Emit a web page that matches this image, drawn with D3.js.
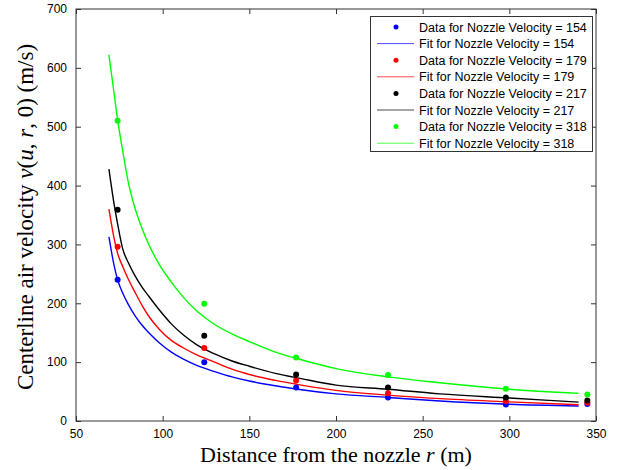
<!DOCTYPE html>
<html>
<head>
<meta charset="utf-8">
<script src="https://cdn.jsdelivr.net/npm/d3@7"></script>
<style>
  body { margin: 0; background: #fff; }
  svg text { font-family: "Liberation Sans", Arial, sans-serif; }
</style>
</head>
<body>
<div id="chart"></div>
<script>
// data
var dataX = [74, 124, 177, 230, 298, 345];
var data154 = [240, 100, 57, 40, 28, 29];
var data179 = [296, 124, 69, 47, 34, 31];
var data217 = [359, 145, 79, 57, 40, 35];
var data318 = [510, 199, 108, 78, 55, 45];

// fitted curves, sampled by eye along each line
var fitX = [69, 72, 74, 77, 80, 84, 88, 92, 98, 105, 112, 120, 130, 140, 150, 165, 180, 200, 230, 260, 300, 340];
var fit154 = [313, 264, 240, 217, 199, 179, 163, 150, 133, 117, 105, 94, 84, 75, 68, 60, 53, 46, 40, 34, 28.5, 25.5];
var fit179 = [360, 310, 285, 262, 242, 219, 197, 178, 156, 137, 124, 112, 100, 88, 79, 69, 61, 52, 44, 38, 32.5, 27.5];
var fit217 = [428, 368, 335, 292, 270, 247, 228, 212, 189, 165, 146, 129, 114, 102, 93, 81, 72, 61, 54, 46, 39, 32];
var fit318 = [622, 556, 512, 458, 408, 362, 328, 300, 266, 236, 210, 186, 164, 148, 135, 117, 104, 89, 75, 65, 54, 47];

var xTicks = [50, 100, 150, 200, 250, 300, 350];
var yTicks = [0, 100, 200, 300, 400, 500, 600, 700];

var series = [
  { label: "154", color: "#0000ff", data: data154, fit: fit154 },
  { label: "179", color: "#ff0000", data: data179, fit: fit179 },
  { label: "217", color: "#000000", data: data217, fit: fit217 },
  { label: "318", color: "#00ff00", data: data318, fit: fit318 }
];

var width = 618, height = 470;
var plotL = 76, plotR = 596, plotT = 9, plotB = 421;

var svg = d3.select("#chart").append("svg")
    .attr("width", width)
    .attr("height", height);

var x = d3.scaleLinear().domain([50, 350]).range([plotL, plotR]);
var y = d3.scaleLinear().domain([0, 700]).range([plotB, plotT]);

// axes with inward ticks on all four sides
svg.append("g")
    .attr("transform", "translate(0," + plotB + ")")
    .call(d3.axisBottom(x).tickValues(xTicks).tickSizeInner(-5).tickSizeOuter(0).tickPadding(8))
    .call(g => g.select(".domain").remove());
svg.append("g")
    .attr("transform", "translate(0," + plotT + ")")
    .call(d3.axisTop(x).tickValues(xTicks).tickSizeInner(-5).tickSizeOuter(0).tickFormat(""))
    .call(g => g.select(".domain").remove());
svg.append("g")
    .attr("transform", "translate(" + plotL + ",0)")
    .call(d3.axisLeft(y).tickValues(yTicks).tickSizeInner(-5).tickSizeOuter(0).tickPadding(9))
    .call(g => g.select(".domain").remove());
svg.append("g")
    .attr("transform", "translate(" + plotR + ",0)")
    .call(d3.axisRight(y).tickValues(yTicks).tickSizeInner(-5).tickSizeOuter(0).tickFormat(""))
    .call(g => g.select(".domain").remove());

svg.selectAll(".tick text").attr("font-size", 12).attr("fill", "#000")
    .attr("font-family", "Liberation Sans, Arial, sans-serif");
svg.selectAll(".tick line").attr("stroke", "#333");

svg.append("rect")
    .attr("x", plotL).attr("y", plotT)
    .attr("width", plotR - plotL).attr("height", plotB - plotT)
    .attr("fill", "none").attr("stroke", "#333").attr("stroke-width", 1);

// fit curves
var line = d3.line()
    .x((d, i) => x(fitX[i]))
    .y(d => y(d))
    .curve(d3.curveMonotoneX);

series.forEach(function (s) {
  svg.append("path")
      .datum(s.fit)
      .attr("d", line)
      .attr("fill", "none")
      .attr("stroke", s.color)
      .attr("stroke-width", 1.4);
});

// data points
series.forEach(function (s) {
  svg.append("g").selectAll("circle")
      .data(s.data)
      .enter().append("circle")
      .attr("cx", (d, i) => x(dataX[i]))
      .attr("cy", d => y(d))
      .attr("r", 3)
      .attr("fill", s.color);
});

// legend
var legend = svg.append("g");
legend.append("rect")
    .attr("x", 370.5).attr("y", 16.5)
    .attr("width", 222).attr("height", 135)
    .attr("fill", "#fff").attr("stroke", "#333");

var rows = [];
series.forEach(function (s) {
  rows.push({ type: "data", s: s });
  rows.push({ type: "fit", s: s });
});
rows.forEach(function (r, i) {
  var cy = 27 + i * 16.6;
  if (r.type === "data") {
    legend.append("circle").attr("cx", 396).attr("cy", cy).attr("r", 2.5).attr("fill", r.s.color);
  } else {
    legend.append("line").attr("x1", 377).attr("x2", 414)
        .attr("y1", cy).attr("y2", cy)
        .attr("stroke", r.s.color).attr("stroke-width", 1).attr("opacity", 0.7);
  }
  legend.append("text")
      .attr("x", 419).attr("y", cy + 4.5)
      .attr("font-size", 12.5)
      .text((r.type === "data" ? "Data for Nozzle Velocity = " : "Fit for Nozzle Velocity = ") + r.s.label);
});

// axis titles
var xt = svg.append("text")
    .attr("x", 336).attr("y", 462)
    .attr("text-anchor", "middle")
    .attr("font-size", 22)
    .style("font-family", "Liberation Serif, Times New Roman, serif");
xt.append("tspan").text("Distance from the nozzle ");
xt.append("tspan").attr("font-style", "italic").text("r");
xt.append("tspan").text(" (m)");

var yt = svg.append("text")
    .attr("transform", "translate(33,217) rotate(-90)")
    .attr("text-anchor", "middle")
    .attr("font-size", 23)
    .style("font-family", "Liberation Serif, Times New Roman, serif");
yt.append("tspan").text("Centerline air velocity ");
yt.append("tspan").attr("font-style", "italic").text("v");
yt.append("tspan").text("(");
yt.append("tspan").attr("font-style", "italic").text("u");
yt.append("tspan").text(", ");
yt.append("tspan").attr("font-style", "italic").text("r");
yt.append("tspan").text(", 0) (m/s)");
</script>
</body>
</html>
